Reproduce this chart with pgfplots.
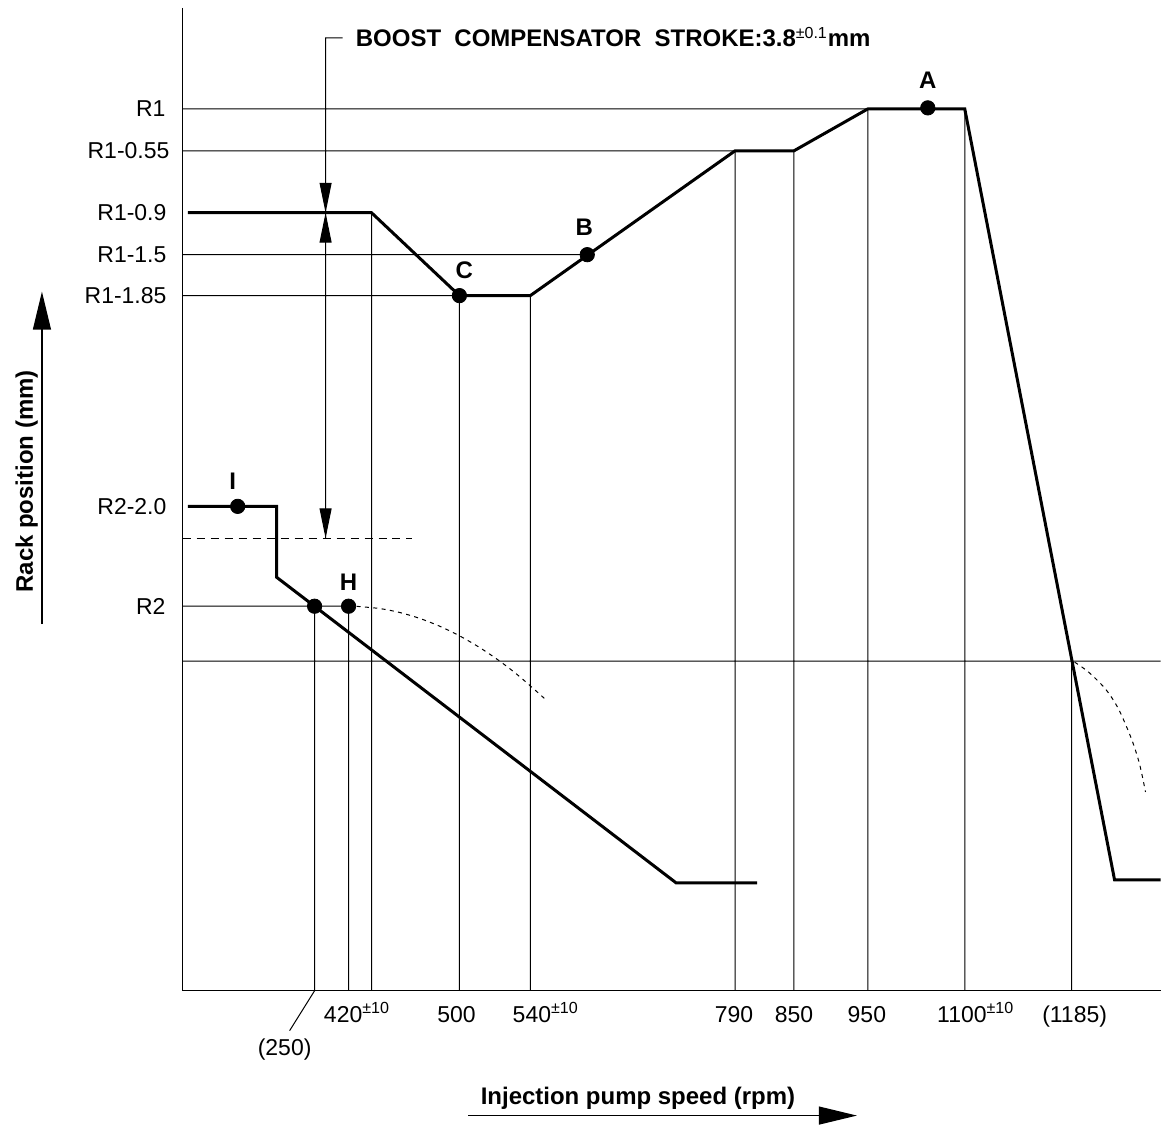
\documentclass[border=0pt]{standalone}
\usepackage{fontspec}
\setmainfont{Liberation Sans}
\usepackage{pgfplots}
\pgfplotsset{compat=1.18}
\usetikzlibrary{arrows.meta}
\newcommand\lbl{\fontsize{11.5}{13.8}\selectfont}
\newcommand\blbl{\fontsize{12}{14.4}\selectfont\bfseries}
\begin{document}
\begin{tikzpicture}[font=\lbl]
\begin{axis}[
  scale only axis, width=581pt, height=565pt,
  xmin=0, xmax=1162, ymin=0, ymax=1130, y dir=reverse,
  hide axis, clip=false, unbounded coords=jump,
]
% frame for bounding box
\addplot[draw=none] coordinates {(0,0) (1162,1130)};
% axes
\addplot[line width=0.65pt] coordinates {(183,8) (183,992) (1162,992)};
% thin reference lines
\addplot[line width=0.5pt] coordinates {
 (183,109) (869,109) (0,nan)
 (183,151) (736,151) (0,nan)
 (183,255) (588,255) (0,nan)
 (183,296) (460,296) (0,nan)
 (183,607) (349,607) (0,nan)
 (183,662) (1162,662) (0,nan)
 (315,607) (315,992) (0,nan)
 (349,607) (349,992) (0,nan)
 (372,213) (372,992) (0,nan)
 (460,296) (460,992) (0,nan)
 (531,296) (531,992) (0,nan)
 (736,151) (736,992) (0,nan)
 (795,151) (795,992) (0,nan)
 (869,109) (869,992) (0,nan)
 (966,109) (966,992) (0,nan)
 (1073,662) (1073,992) (0,nan)
 (315,992) (290,1032) (0,nan)
 (343,38) (326,38) (326,539)
};
% dashed lines
\addplot[line width=0.5pt, dash pattern=on 4pt off 3pt] coordinates {(183,539) (413,539)};
\addplot[line width=0.5pt, dash pattern=on 2pt off 2.2pt, smooth] coordinates {
 (357,607.1) (380,609.3) (400,613.2) (420,619.1) (440,626.9) (460,636.6)
 (480,648.2) (500,661.7) (520,677.2) (545,699.2)};
\addplot[line width=0.5pt, dash pattern=on 2pt off 2.2pt, smooth] coordinates {
 (1076,663) (1090,673) (1107,690) (1120,710) (1133,740) (1141,765) (1147,793)};
% main characteristic curves
\addplot[line width=1.5pt] coordinates {
 (188,213) (372,213) (460,296) (531,296) (736,151) (795,151)
 (869,109) (966,109) (1116,881) (1162,881)};
\addplot[line width=1.5pt] coordinates {
 (188,507) (277,507) (277,578) (677,884) (758,884)};
% points
\addplot[only marks, mark=*, mark size=3.6pt, black] coordinates {
 (238,507) (929,108) (588,255) (460,296) (349,607) (315,607)};
% boost compensator arrows
\draw[line width=0.5pt, -{Triangle[length=15pt,width=6pt]}] (326,170) -- (326,213);
\draw[line width=0.5pt, -{Triangle[length=15pt,width=6pt]}] (326,256) -- (326,213);
\draw[line width=0.5pt, -{Triangle[length=15pt,width=6pt]}] (326,495) -- (326,539);
% axis label arrows
\draw[line width=0.6pt, -{Triangle[length=19pt,width=9pt]}] (42,625) -- (42,292);
\draw[line width=0.6pt, -{Triangle[length=19pt,width=9pt]}] (469,1117) -- (858,1117);
% y labels
\node[anchor=base east, inner sep=0] at (166,117) {R1};
\node[anchor=base east, inner sep=0] at (170,159) {R1-0.55};
\node[anchor=base east, inner sep=0] at (167,221) {R1-0.9};
\node[anchor=base east, inner sep=0] at (167,263) {R1-1.5};
\node[anchor=base east, inner sep=0] at (167,304) {R1-1.85};
\node[anchor=base east, inner sep=0] at (167,515) {R2-2.0};
\node[anchor=base east, inner sep=0] at (166,615) {R2};
% x labels
\node[anchor=base west, inner sep=0] at (324,1024) {420\textsuperscript{±10}};
\node[anchor=base, inner sep=0] at (457,1024) {500};
\node[anchor=base west, inner sep=0] at (513,1024) {540\textsuperscript{±10}};
\node[anchor=base, inner sep=0] at (735,1024) {790};
\node[anchor=base, inner sep=0] at (795,1024) {850};
\node[anchor=base, inner sep=0] at (868,1024) {950};
\node[anchor=base west, inner sep=0] at (938,1024) {1100\textsuperscript{±10}};
\node[anchor=base, inner sep=0] at (1076,1024) {(1185)};
\node[anchor=base, inner sep=0] at (285,1057) {(250)};
% point labels
\node[anchor=base, inner sep=0, font=\blbl] at (929,89) {A};
\node[anchor=base, inner sep=0, font=\blbl] at (585,236) {B};
\node[anchor=base, inner sep=0, font=\blbl] at (465,279) {C};
\node[anchor=base, inner sep=0, font=\blbl] at (233,490) {I};
\node[anchor=base, inner sep=0, font=\blbl] at (349,591) {H};
% titles
\node[anchor=base west, inner sep=0, font=\blbl] at (356,47) {BOOST\ \ COMPENSATOR\ \ STROKE:3.8\textsuperscript{\mdseries ±0.1}mm};
\node[anchor=base west, inner sep=0, font=\blbl] at (481,1106) {Injection pump speed (rpm)};
\node[anchor=base, inner sep=0, rotate=90, font=\blbl] at (33,482) {Rack position (mm)};
\end{axis}
\end{tikzpicture}
\end{document}
